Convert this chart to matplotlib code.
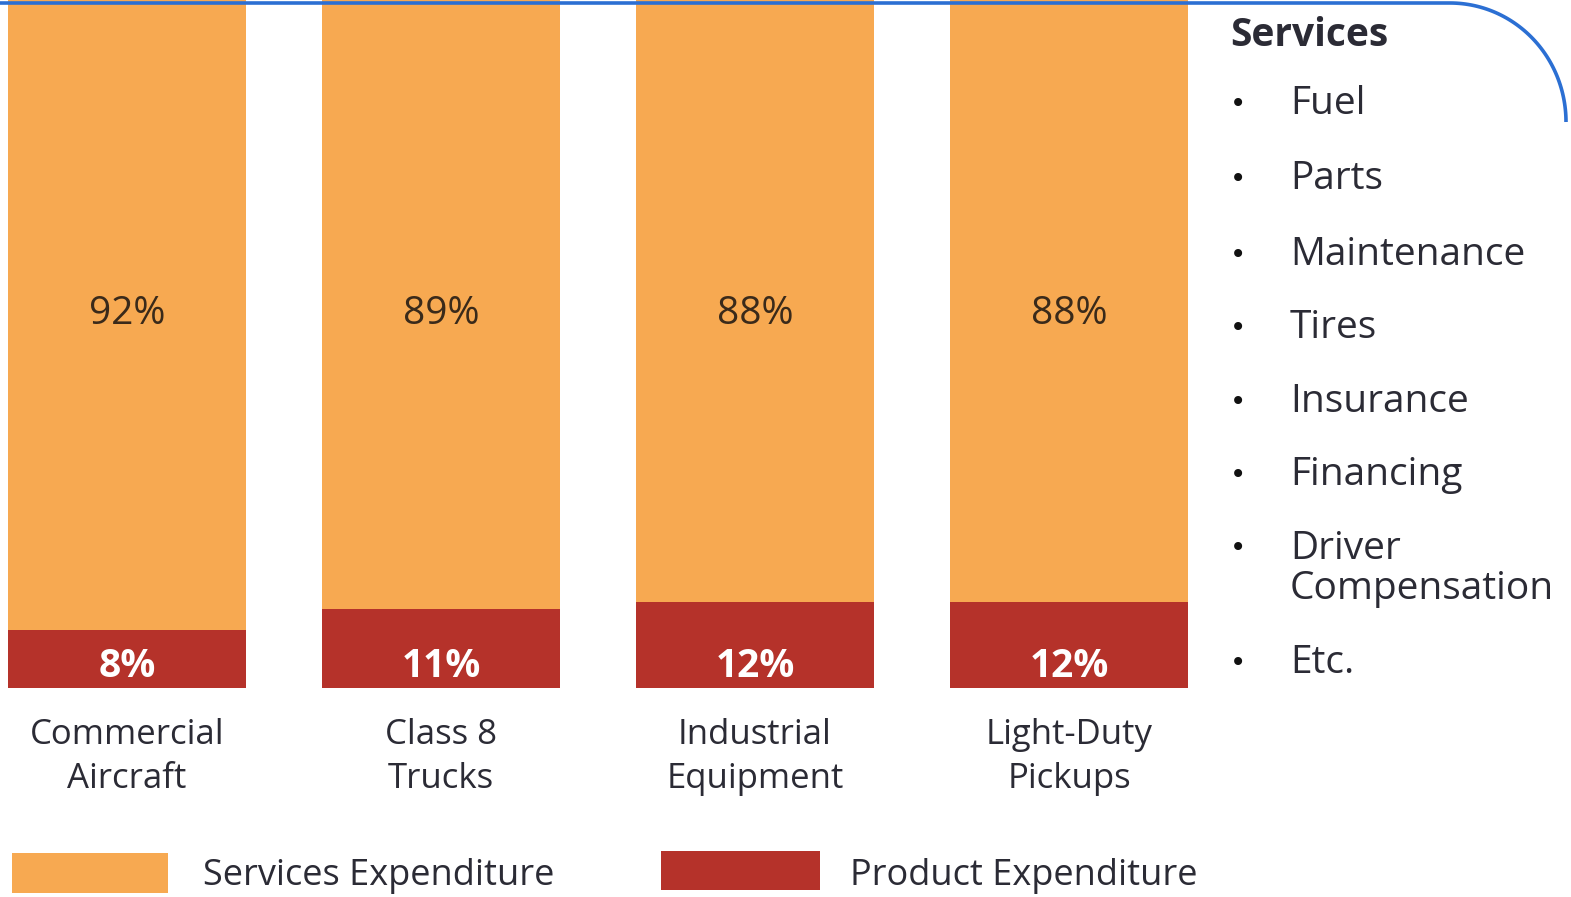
import matplotlib
matplotlib.use("Agg")
import matplotlib.pyplot as plt
import numpy as np
from matplotlib.patches import Rectangle
import matplotlib.transforms as mtransforms

categories = ["Commercial\nAircraft", "Class 8\nTrucks", "Industrial\nEquipment", "Light-Duty\nPickups"]
product = [8, 11, 12, 12]
services = [92, 89, 88, 88]
service_items = ["Fuel", "Parts", "Maintenance", "Tires", "Insurance", "Financing",
                 "Driver\nCompensation", "Etc."]
legend_labels = ["Services Expenditure", "Product Expenditure"]

ORANGE = "#F7A951"
RED = "#B5322A"
TEXT = "#2b2b35"
FONT = "Open Sans"

W, H = 1571, 897
fig = plt.figure(figsize=(W / 100, H / 100), dpi=100)

# bar axes: bottom of bars at y=688px, top at figure top
ax = fig.add_axes([0, (H - 688) / H, 1, 688 / H])
x = np.arange(len(categories))
ax.bar(x, product, width=0.755, color=RED, edgecolor="none")
ax.bar(x, services, bottom=product, width=0.755, color=ORANGE, edgecolor="none")
ax.set_xlim(-127 / 314, (W - 127) / 314)
ax.set_ylim(0, 95.5)
ax.axis("off")

trans = mtransforms.blended_transform_factory(ax.transData, ax.transAxes)
for i in range(len(categories)):
    ax.text(x[i], (688 - 314) / 688, f"{services[i]}%", transform=trans,
            ha="center", va="center", fontsize=28, color="#3a2a1a", family=FONT)
    ax.text(x[i], 3.0, f"{product[i]}%", ha="center", va="center",
            fontsize=28, color="white", fontweight="bold", family=FONT)

# overlay in pixel coordinates for annotations
ov = fig.add_axes([0, 0, 1, 1], facecolor="none")
ov.set_xlim(0, W)
ov.set_ylim(H, 0)
ov.axis("off")

for i in range(len(categories)):
    ov.text(127 + 314 * i, 757, categories[i], ha="center", va="center", fontsize=25,
            color=TEXT, family=FONT, linespacing=1.42)

# blue frame line
t = np.linspace(np.pi / 2, 0, 60)
cx, cy, rx, ry = 1450, 122, 116, 119
xs = np.concatenate([[0], cx + rx * np.cos(t)])
ys = np.concatenate([[3], cy - ry * np.sin(t)])
ov.plot(xs, ys, color="#2B6FD3", lw=2.6, solid_capstyle="butt")

ov.text(1230, 36, "Services", fontsize=28, fontweight="bold", color=TEXT,
        family=FONT, va="center", ha="left")
item_y = [104, 179, 255, 328, 402, 475, 569, 663]
bullet_y = [104, 179, 255, 328, 402, 475, 548, 663]
for item, yy, by in zip(service_items, item_y, bullet_y):
    ov.text(1238, by, "•", fontsize=20, color="#111111", va="center", ha="center")
    ov.text(1290, yy, item, fontsize=28, color=TEXT, family=FONT, va="center",
            ha="left", linespacing=1.1)

# legend
ov.add_patch(Rectangle((12, 853), 156, 40, color=ORANGE, lw=0))
ov.text(203, 876, legend_labels[0], fontsize=26, color=TEXT, family=FONT, va="center")
ov.add_patch(Rectangle((661, 851), 159, 39, color=RED, lw=0))
ov.text(850, 876, legend_labels[1], fontsize=26, color=TEXT, family=FONT, va="center")

fig.savefig("out.png", dpi=100, facecolor="white")
